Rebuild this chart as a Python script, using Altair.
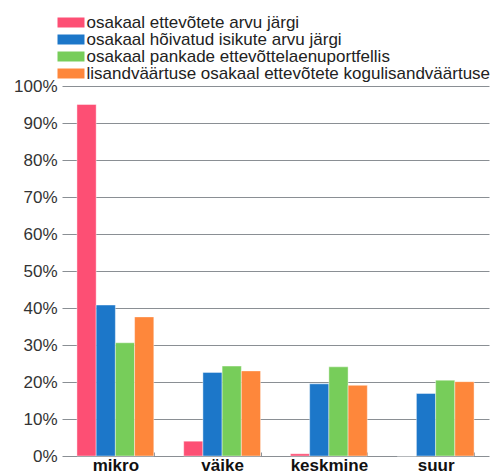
import altair as alt
import pandas as pd

categories = ["mikro", "väike", "keskmine", "suur"]
series = [
    "osakaal ettevõtete arvu järgi",
    "osakaal hõivatud isikute arvu järgi",
    "osakaal pankade ettevõttelaenuportfellis",
    "lisandväärtuse osakaal ettevõtete kogulisandväärtuses",
]
colors = ["#FD4F74", "#1C77C9", "#77CD5A", "#FE873B"]
v_firms = [95.0, 4.0, 0.6, 0.0]
v_employed = [40.8, 22.6, 19.5, 16.9]
v_loans = [30.6, 24.3, 24.1, 20.5]
v_value = [37.6, 23.0, 19.1, 20.1]

rows = []
for s, vals in zip(series, [v_firms, v_employed, v_loans, v_value]):
    for c, v in zip(categories, vals):
        rows.append({"kategooria": c, "seeria": s, "väärtus": v})
df = pd.DataFrame(rows)

FONT = "Liberation Sans"

chart = alt.Chart(df).mark_bar(stroke="white", strokeWidth=0.6, strokeOpacity=0.7).encode(
    x=alt.X(
        "kategooria:N",
        sort=categories,
        scale=alt.Scale(paddingInner=0.28, paddingOuter=0.14),
        axis=alt.Axis(
            title=None,
            labelAngle=0,
            domain=False,
            ticks=True,
            tickBand="extent",
            tickSize=4,
            tickColor="#8a8f94",
            offset=-4,
            labelPadding=1,
            labelFont=FONT,
            labelFontSize=17,
            labelFontWeight="bold",
            labelColor="#111",
        ),
    ),
    xOffset=alt.XOffset("seeria:N", sort=series, scale=alt.Scale(paddingInner=0)),
    y=alt.Y(
        "väärtus:Q",
        scale=alt.Scale(domain=[0, 100], nice=False),
        axis=alt.Axis(
            title=None,
            values=list(range(0, 101, 10)),
            labelExpr="datum.value + '%'",
            domain=False,
            ticks=False,
            grid=True,
            gridColor="#8a8f94",
            gridWidth=1,
            labelPadding=5,
            labelFont=FONT,
            labelFontSize=17,
            labelColor="#333",
        ),
    ),
    color=alt.Color(
        "seeria:N",
        sort=series,
        scale=alt.Scale(domain=series, range=colors),
        legend=alt.Legend(
            title=None,
            orient="none",
            legendX=0.5,
            legendY=-72,
            symbolType="M-2.7,-1H2.7V1H-2.7Z",
            symbolSize=100,
            symbolStrokeWidth=0,
            symbolOpacity=1,
            labelFont=FONT,
            labelFontSize=17,
            labelColor="#222",
            labelOffset=7,
            rowPadding=-5,
            labelLimit=500,
        ),
    ),
).properties(
    width=427,
    height=370,
    autosize=alt.AutoSizeParams(type="none"),
    padding={"left": 54, "top": 78, "right": 1, "bottom": 16},
).configure_view(stroke=None)

chart.save("out.html", embed_options={"renderer": "svg", "actions": False})
